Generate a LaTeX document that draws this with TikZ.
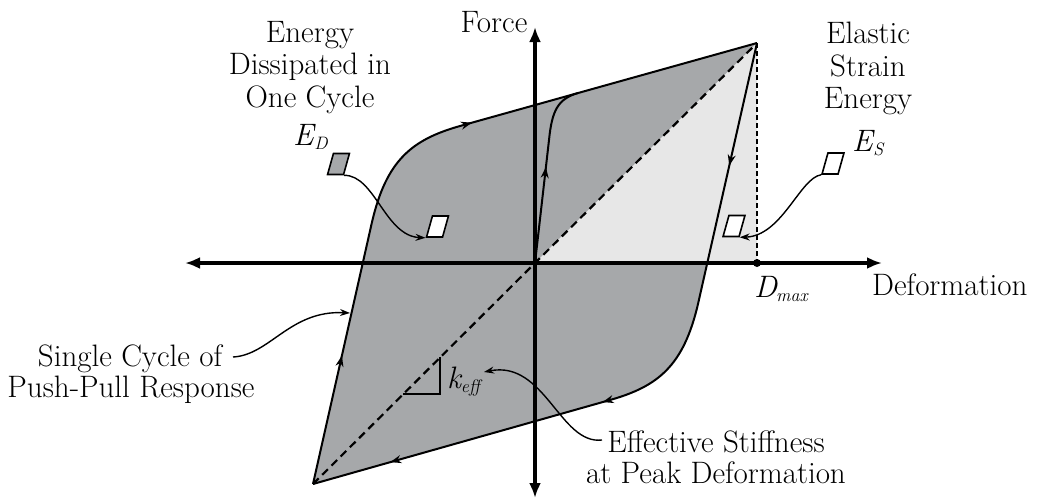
\documentclass[tikz,border=0pt]{standalone}
\usetikzlibrary{arrows.meta,decorations.markings}
\definecolor{loopgray}{RGB}{166,168,170}
\definecolor{elasgray}{RGB}{231,231,231}
\newcommand{\mysub}[2]{\textit{#1}\kern-0.05em\raisebox{-0.35ex}{\fontsize{18}{18}\selectfont\textit{#2}}}
\tikzset{
  axisline/.style={line width=3.6pt, {Latex[length=15pt,width=12pt]}-{Latex[length=15pt,width=12pt]}},
  upaxis/.style={line width=3.6pt, {Latex[length=15pt,width=12pt]}-{Latex[length=15pt,width=12pt]}},
  branch/.style={line width=2pt},
  lbl/.style={font=\fontsize{31}{36}\selectfont, inner sep=0pt, anchor=base},
  lblw/.style={font=\fontsize{31}{36}\selectfont, inner sep=0pt, anchor=base west},
  pbox/.style={draw, line width=1.6pt, minimum width=16pt, minimum height=21pt, inner sep=0pt, xslant=0.28, transform shape},
  conn/.style={line width=1.4pt, -{Stealth[length=10pt,width=7pt]}},
  midarrow/.style={postaction={decorate, decoration={markings, mark=at position #1 with {\arrow{Stealth[length=11pt,width=8pt]}}}}},
  dashdiag/.style={line width=2.2pt, dash pattern=on 8pt off 5pt},
  dashvert/.style={line width=1.5pt, dash pattern=on 5pt off 3pt},
}
\begin{document}
\begin{tikzpicture}[x=1pt,y=-1pt]
\useasboundingbox (0,0) rectangle (1039,501);
% key points
\coordinate (O) at (535,263);
\coordinate (P1) at (757,43);
\coordinate (P2) at (313,484);
\coordinate (A1) at (372,222);
\coordinate (B1) at (460,126);
\coordinate (A2) at (698,304);
\coordinate (B2) at (610,400);
\coordinate (Dm) at (757,263);
% fills
\fill[loopgray] (P2) -- (A1) .. controls (386.5,160) and (412,139.6) .. (B1) -- (P1) -- (A2) .. controls (683.5,366) and (658,386.4) .. (B2) -- cycle;
\fill[elasgray] (O) -- (P1) -- (Dm) -- cycle;
% dashed lines
\draw[dashdiag] (P2) -- (O) -- (P1);
\draw[dashvert] (P1) -- (Dm);
% stiffness triangle
\draw[line width=1.2pt] (403,394) -- (440,394) -- (440,357);
% loop branches
\draw[branch, midarrow=0.04] (B1) -- (P1);
\draw[branch, midarrow=0.47] (P1) -- (A2);
\draw[branch] (A2) .. controls (683.5,366) and (658,386.4) .. (B2);
\draw[branch, midarrow=0.025, midarrow=0.74] (B2) -- (P2);
\draw[branch, midarrow=0.49] (P2) -- (A1);
\draw[branch] (A1) .. controls (386.5,160) and (412,139.6) .. (B1);
% initial loading
\coordinate (I1) at (549,140);
\coordinate (I2) at (578,93);
\draw[branch, midarrow=0.78] (O) -- (I1);
\draw[branch] (I1) .. controls (552,110) and (558,99) .. (I2);
% axes
\coordinate (XL) at (185,263);
\coordinate (XR) at (882,263);
\coordinate (YB) at (535,498);
\coordinate (YT) at (535,27);
\draw[axisline] (XL) -- (XR);
\draw[upaxis] (YB) -- (YT);
\fill (Dm) circle (4pt);
% boxes
\node[pbox, fill=loopgray] (bED) at (338.5,164) {};
\node[pbox, fill=white] (bW1) at (437.5,226.5) {};
\node[pbox, fill=white] (bES) at (833,163.5) {};
\node[pbox, fill=white] (bW2) at (734,226) {};
% connectors
\draw[conn] (bED.south east) .. controls (375,175) and (385,236) .. (bW1.south west);
\draw[conn] (bES.south west) .. controls (800,178) and (782,236) .. (bW2.south east);
\coordinate (c1) at (233,357);
\coordinate (tipA) at (350,313);
\draw[conn] (c1) .. controls (270,355) and (290,310) .. (tipA);
\coordinate (c2) at (602,440);
\coordinate (tipK) at (484,372);
\draw[conn] (c2) .. controls (560,445) and (545,360) .. (tipK);
% texts
\node[lbl] (t1) at (310,42) {Energy};
\node[lbl] (t2) at (310,74) {Dissipated in};
\node[lbl] (t3) at (310,107) {One Cycle};
\node[lblw] (ED) at (293,145) {\mysub{E}{D}};
\node[lbl] (r1) at (868,43) {Elastic};
\node[lbl] (r2) at (868,76) {Strain};
\node[lbl] (r3) at (868,108) {Energy};
\node[lblw] (ES) at (852,151) {\mysub{E}{S}};
\node[lbl] (force) at (494,32) {Force};
\node[lblw] (deform) at (872,295) {Deformation};
\node[lblw] (dmax) at (754,297) {\mysub{D}{max}};
\node[lbl] (s1) at (130,366) {Single Cycle of};
\node[lbl] (s2) at (131,397) {Push-Pull Response};
\node[lblw] (keff) at (447,388) {\mysub{k}{eff}};
\node[lbl] (e1) at (716,452) {Effective Stiffness};
\node[lbl] (e2) at (716,483) {at Peak Deformation};
\end{tikzpicture}
\end{document}
